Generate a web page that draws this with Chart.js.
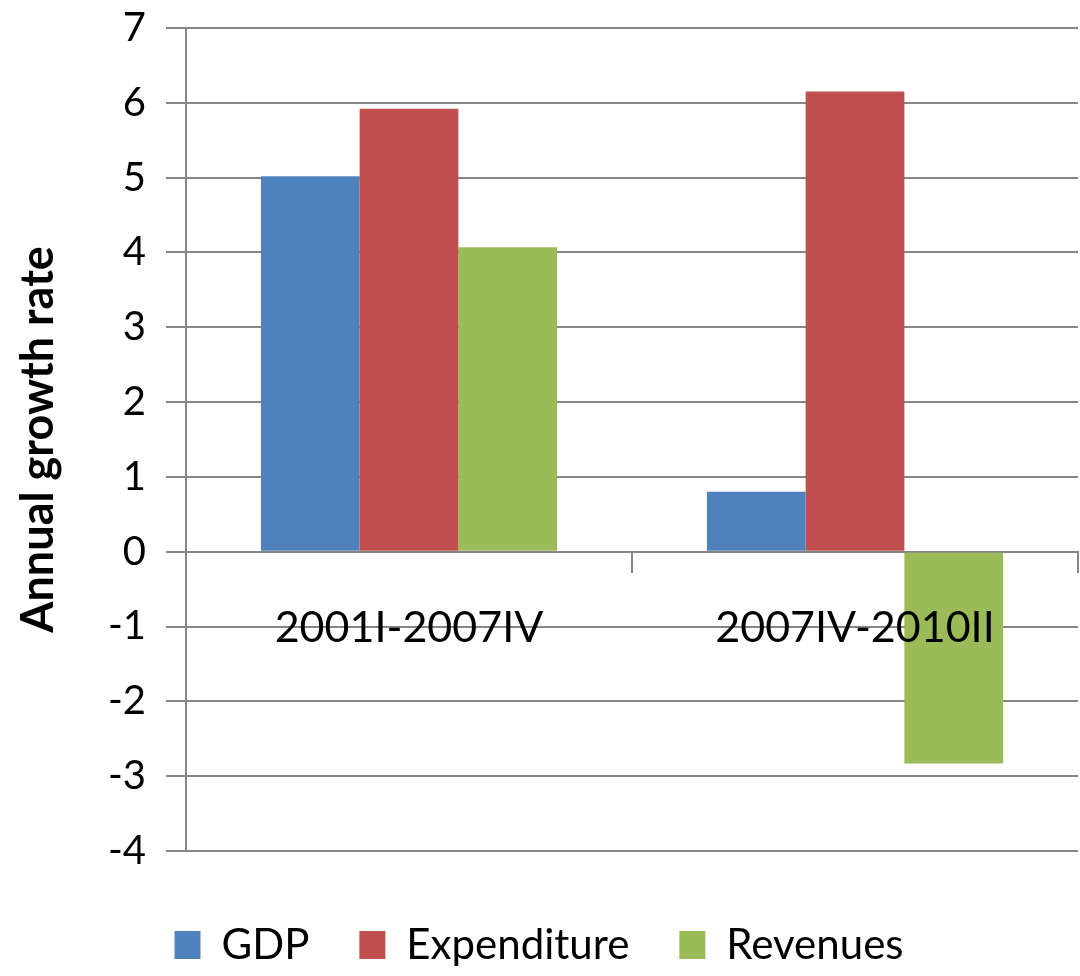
<!DOCTYPE html>
<html>
<head>
<meta charset="utf-8">
<script src="https://cdn.jsdelivr.net/npm/chart.js@4"></script>
<style>
  html, body { margin: 0; padding: 0; background: #ffffff; }
  #wrap { width: 1080px; height: 976px; }
</style>
</head>
<body>
<div id="wrap"><canvas id="c" width="1080" height="976"></canvas></div>
<script>
const categories = ['2001I-2007IV', '2007IV-2010II'];
const gdp = [5.02, 0.80];
const expenditure = [5.92, 6.15];
const revenues = [4.07, -2.83];
const seriesNames = ['GDP', 'Expenditure', 'Revenues'];
const yTitle = 'Annual growth rate';

const FONT = 'Lato';
const GRID = '#868686';

new Chart(document.getElementById('c'), {
  type: 'bar',
  data: {
    labels: categories,
    datasets: [
      { label: seriesNames[0], data: gdp, backgroundColor: '#4F81BD' },
      { label: seriesNames[1], data: expenditure, backgroundColor: '#C0504D' },
      { label: seriesNames[2], data: revenues, backgroundColor: '#9BBB59' }
    ]
  },
  options: {
    responsive: false,
    animation: false,
    devicePixelRatio: 1,
    datasets: { bar: { categoryPercentage: 0.664, barPercentage: 1.0, borderWidth: 0 } },
    layout: { padding: { top: 0, right: 2, left: 0, bottom: 0 } },
    plugins: {
      tooltip: { enabled: false },
      legend: {
        position: 'bottom',
        title: { display: true, text: ' ', font: { size: 10, lineHeight: 1 }, padding: { top: 13, bottom: 0 } },
        labels: {
          font: { family: FONT, size: 42 },
          color: '#000000',
          boxWidth: 26,
          boxHeight: 28,
          padding: 50
        }
      }
    },
    scales: {
      x: {
        position: { y: 0 },
        grid: { drawOnChartArea: false, drawTicks: true, tickLength: 20, color: GRID, lineWidth: 2 },
        border: { display: true, color: GRID, width: 2 },
        ticks: { z: 1, font: { family: FONT, size: 43 }, color: '#000000', padding: 31, maxRotation: 0 }
      },
      y: {
        min: -4,
        max: 7,
        ticks: { stepSize: 1, font: { family: FONT, size: 40, lineHeight: 0.4 }, color: '#000000', padding: 20 },
        grid: { color: GRID, lineWidth: 2, tickLength: 20, drawTicks: true },
        border: { display: true, color: GRID, width: 2 },
        title: {
          display: true,
          text: yTitle,
          font: { family: FONT, size: 45, weight: 'bold' },
          color: '#000000',
          padding: { top: 11, bottom: 0 }
        },
        afterFit: function (scale) { scale.width = 186; }
      }
    }
  }
});
</script>
</body>
</html>
